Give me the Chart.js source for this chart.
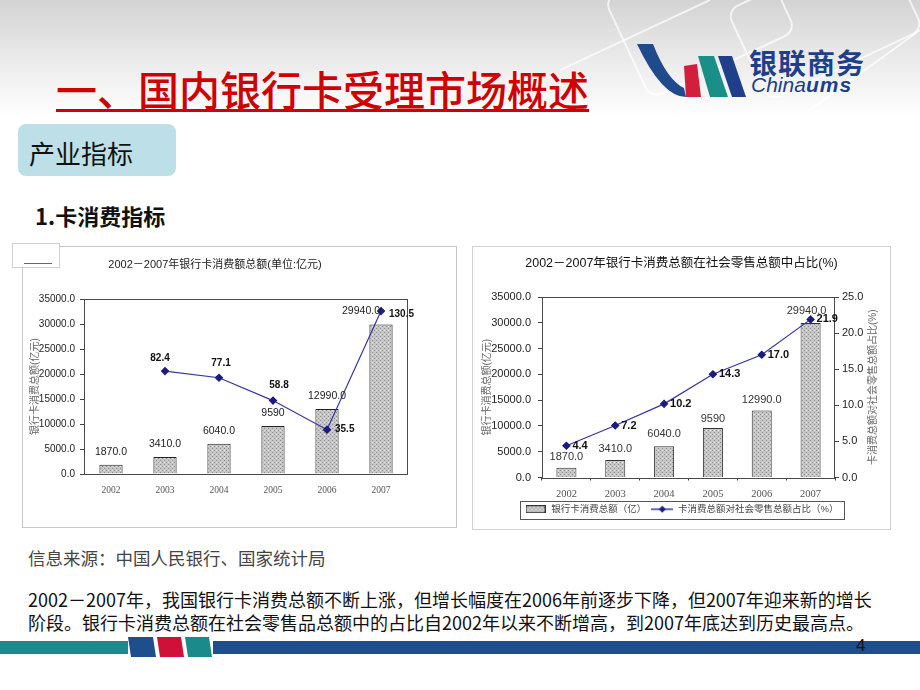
<!DOCTYPE html>
<html>
<head>
<meta charset="utf-8">
<script src="https://cdn.jsdelivr.net/npm/chart.js@4.4.0/dist/chart.umd.min.js"></script>
<style>
  html, body { margin: 0; padding: 0; }
  body {
    width: 920px; height: 690px; position: relative; overflow: hidden;
    background: linear-gradient(#d3d3d3 0px, #e9e9e9 55px, #ffffff 118px);
    font-family: 'Noto Sans CJK SC', sans-serif;
  }
  .abs { position: absolute; }
  #deco { left: 560px; top: 0; }
  #title {
    left: 56px; top: 68px; font-size: 41px; line-height: 41px; color: #d00000;
    border-bottom: 3px solid #d00000; white-space: nowrap; font-weight: 500;
  }
  #tag { left: 18px; top: 124px; width: 158px; height: 52px; background: #bde0e8; border-radius: 8px; }
  #tag span { position: absolute; left: 11px; top: 16px; font-size: 26px; line-height: 26px; color: #111; }
  #sub { left: 35px; top: 204px; font-size: 22px; line-height: 22px; font-weight: bold; color: #111; }
  .frame { box-sizing: border-box; border: 1px solid #c6c6c6; background: #fff; }
  #f1 { left: 22px; top: 246px; width: 435px; height: 282px; }
  #f2 { left: 472px; top: 246px; width: 419px; height: 284px; border-color: #d2d2d2; }
  #c1 { left: 22px; top: 246px; }
  #c2 { left: 472px; top: 246px; }
  #stub { left: 12px; top: 243px; width: 48px; height: 25px; box-sizing: border-box; border: 1px solid #cfcfcf; background: #fff; }
  #stub i { position: absolute; left: 11px; top: 19px; width: 28px; height: 1px; background: #666; }
  #src { left: 28px; top: 549px; font-size: 17.5px; line-height: 17.5px; color: #444; white-space: nowrap; }
  #para { left: 28px; top: 588px; font-size: 18px; line-height: 23px; color: #111; white-space: nowrap; }
  #page { left: 856px; top: 636px; font-family: 'Liberation Sans', sans-serif; font-size: 17px; color: #111; }
  #logoTxt { left: 749px; top: 48px; font-size: 28px; line-height: 28px; font-weight: bold; color: #1f3f8a; letter-spacing: 1px; }
  #logoEn { left: 751px; top: 74px; font-family: 'Liberation Sans', sans-serif; font-size: 21px; line-height: 21px; color: #1f3f8a; white-space: nowrap; }
  #logoEn i { font-style: italic; }
  #logoEn b { font-style: italic; letter-spacing: 1px; }
</style>
</head>
<body>
<svg id="deco" class="abs" width="360" height="120">
  <g fill="none" stroke="#ffffff" stroke-opacity="0.7" stroke-width="2">
    <rect x="60" y="-40" width="160" height="110" rx="12" transform="rotate(-25 140 15)"/>
    <rect x="180" y="-30" width="170" height="100" rx="12" transform="rotate(-25 265 20)"/>
    <path d="M0 70 L150 0"/>
    <path d="M250 110 L360 30"/>
  </g>
</svg>

<div id="title" class="abs">一、国内银行卡受理市场概述</div>

<svg class="abs" style="left:0;top:0" width="920" height="120">
  <path d="M637 44 L653 44 Q667 80 684 88 L686 97 Q662 97 637 44 Z" fill="#1f4a8c"/>
  <path d="M684 66 L697 64 L701 97 L686 97 Z" fill="#d21f3c"/>
  <path d="M698 56 L714 56 L728 97 L710 97 Z" fill="#1a8f87"/>
  <path d="M718 56 L732 56 L746 97 L732 97 Z" fill="#1f3f8a"/>
</svg>
<div id="logoTxt" class="abs">银联商务</div>
<div id="logoEn" class="abs"><i>China</i><b>ums</b></div>

<div id="tag" class="abs"><span>产业指标</span></div>
<div id="sub" class="abs">1.卡消费指标</div>

<div id="f1" class="abs frame"></div>
<div id="f2" class="abs frame"></div>
<canvas id="c1" class="abs" width="435" height="282"></canvas>
<canvas id="c2" class="abs" width="419" height="284"></canvas>
<div id="stub" class="abs"><i></i></div>

<div id="src" class="abs">信息来源：中国人民银行、国家统计局</div>
<div id="para" class="abs">2002－2007年，我国银行卡消费总额不断上涨，但增长幅度在2006年前逐步下降，但2007年迎来新的增长<br>阶段。银行卡消费总额在社会零售品总额中的占比自2002年以来不断增高，到2007年底达到历史最高点。</div>

<svg class="abs" style="left:0;top:632px" width="920" height="30">
  <rect x="0" y="9" width="128" height="13" fill="#1a8a8a"/>
  <path d="M128 5 L153 5 L156 25 L131 25 Z" fill="#1f4e8c"/>
  <path d="M157 5 L181 5 L184 25 L160 25 Z" fill="#cf1038"/>
  <path d="M185 5 L209 5 L212 25 L188 25 Z" fill="#1a8a8a"/>
  <rect x="213" y="9" width="707" height="13" fill="#1f4e8c"/>
</svg>
<div id="page" class="abs">4</div>

<script>
// --- data ---
const years = ['2002', '2003', '2004', '2005', '2006', '2007'];
const cardSpend = [1870, 3410, 6040, 9590, 12990, 29940];
const cardSpendText = ['1870.0', '3410.0', '6040.0', '9590', '12990.0', '29940.0'];
const growthRate = [null, 82.4, 77.1, 58.8, 35.5, 130.5];
const retailShare = [4.4, 7.2, 10.2, 14.3, 17.0, 21.9];

const title1 = '2002－2007年银行卡消费额总额(单位:亿元)';
const title2 = '2002－2007年银行卡消费总额在社会零售总额中占比(%)';
const spendAxisTitle = '银行卡消费总额(亿元)';
const shareAxisTitle = '卡消费总额对社会零售总额占比(%)';
const legendSpend = '银行卡消费总额（亿）';
const legendShare = '卡消费总额对社会零售总额占比（%）';

// --- styles ---
const NUM = "'Liberation Sans Narrow', 'Liberation Sans', 'Noto Sans CJK SC', sans-serif";
const SERIF = "'Liberation Serif', serif";
const lineColor = '#3434a6';
const markColor = '#1b1b80';

Chart.defaults.font.family = NUM;
Chart.defaults.color = '#222';

function barPattern() {
  const c = document.createElement('canvas');
  c.width = 4; c.height = 4;
  const x = c.getContext('2d');
  x.fillStyle = '#c6c6c6';
  x.fillRect(0, 0, 4, 4);
  x.fillStyle = '#8e8e8e';
  x.fillRect(0, 0, 1, 1);
  x.fillRect(2, 2, 1, 1);
  x.fillStyle = '#e2e2e2';
  x.fillRect(2, 0, 1, 1);
  return x.createPattern(c, 'repeat');
}

const fmt1 = v => Number(v).toFixed(1);

// labels next to points / bars
const valueLabels = {
  id: 'valueLabels',
  afterDatasetsDraw(chart) {
    const ctx = chart.ctx;
    chart.data.datasets.forEach((ds, i) => {
      if (!ds.labelText) return;
      const meta = chart.getDatasetMeta(i);
      ctx.save();
      ctx.font = ds.labelFont;
      ctx.fillStyle = ds.labelColor;
      ctx.textBaseline = 'middle';
      meta.data.forEach((el, j) => {
        const txt = ds.labelText[j];
        if (txt == null || ds.data[j] == null) return;
        const off = ds.labelOffset[j];
        ctx.textAlign = off[2];
        ctx.fillText(txt, el.x + off[0], el.y + off[1]);
      });
      ctx.restore();
    });
  }
};

const plotFrame = {
  id: 'plotFrame',
  afterDatasetsDraw(chart) {
    const a = chart.chartArea, ctx = chart.ctx;
    ctx.save();
    ctx.strokeStyle = '#4a4a4a';
    ctx.lineWidth = 1;
    ctx.strokeRect(Math.round(a.left) + 0.5, Math.round(a.top) + 0.5,
                   Math.round(a.right - a.left) - 1, Math.round(a.bottom - a.top));
    ctx.restore();
  }
};

// ---------- chart 1 ----------
new Chart(document.getElementById('c1'), {
  data: {
    labels: years,
    datasets: [
      {
        type: 'line', label: '增长率', data: growthRate, yAxisID: 'y1', order: 0,
        borderColor: lineColor, borderWidth: 1.2, pointStyle: 'rectRot', pointRadius: 3.5,
        pointBackgroundColor: markColor, pointBorderColor: markColor, spanGaps: false,
        labelText: growthRate.map(v => v == null ? null : fmt1(v)),
        labelOffset: [null, [-5, -13, 'center'], [2, -14, 'center'], [6, -15, 'center'], [8, 0, 'left'], [8, 3, 'left']],
        labelFont: 'bold 10px ' + NUM, labelColor: '#111'
      },
      {
        type: 'bar', label: legendSpend, data: cardSpend, yAxisID: 'y', order: 1,
        backgroundColor: barPattern(), borderColor: '#222', borderWidth: 1,
        barPercentage: 0.43, categoryPercentage: 1,
        labelText: cardSpendText,
        labelOffset: [[0, -13, 'center'], [0, -13, 'center'], [0, -13, 'center'], [0, -13, 'center'], [0, -13, 'center'], [-20, -13, 'center']],
        labelFont: '10.5px ' + NUM, labelColor: '#222'
      }
    ]
  },
  options: {
    responsive: false, animation: false,
    layout: { padding: { left: 0, right: 49, top: 0, bottom: 0 } },
    plugins: {
      legend: { display: false },
      tooltip: { enabled: false },
      title: {
        display: true, text: title1, color: '#222',
        font: { size: 11, weight: 'normal', family: NUM, lineHeight: 1.2 },
        padding: { top: 12, bottom: 28 }
      }
    },
    scales: {
      x: {
        grid: { display: false, drawTicks: false },
        border: { display: false },
        ticks: { font: { size: 9.5, family: SERIF }, color: '#555', padding: 11 },
        afterFit: s => { s.height = 54; }
      },
      y: {
        min: 0, max: 35000,
        ticks: { stepSize: 5000, callback: fmt1, font: { size: 10 }, color: '#222', padding: 5 },
        grid: { display: true, drawOnChartArea: false, drawTicks: true, tickLength: 4, color: '#444' },
        border: { display: false },
        title: { display: true, text: spendAxisTitle, color: '#666', font: { size: 10, family: NUM }, padding: { top: 7, bottom: 0 } },
        afterFit: s => { s.width = 62; }
      },
      y1: { display: false, min: 0, max: 140 }
    }
  },
  plugins: [plotFrame, valueLabels]
});

// ---------- chart 2 ----------
function swatchBar() {
  const c = document.createElement('canvas');
  c.width = 20; c.height = 8;
  const x = c.getContext('2d');
  x.fillStyle = barPattern();
  x.fillRect(0, 0, 20, 8);
  x.strokeStyle = '#333';
  x.strokeRect(0.5, 0.5, 19, 7);
  return c;
}
function swatchLine() {
  const c = document.createElement('canvas');
  c.width = 22; c.height = 8;
  const x = c.getContext('2d');
  x.strokeStyle = lineColor;
  x.lineWidth = 1.5;
  x.beginPath(); x.moveTo(0, 4); x.lineTo(22, 4); x.stroke();
  x.fillStyle = markColor;
  x.beginPath(); x.moveTo(11, 0.5); x.lineTo(14.5, 4); x.lineTo(11, 7.5); x.lineTo(7.5, 4); x.closePath(); x.fill();
  return c;
}

const rightTitle = {
  id: 'rightTitle',
  afterDraw(chart, args, opts) {
    const s = chart.scales.y1, a = chart.chartArea, ctx = chart.ctx;
    ctx.save();
    ctx.translate(s.right - opts.offset, (a.top + a.bottom) / 2);
    ctx.rotate(-Math.PI / 2);
    ctx.font = opts.font;
    ctx.fillStyle = opts.color;
    ctx.textAlign = 'center';
    ctx.textBaseline = 'middle';
    ctx.fillText(opts.text, 0, 0);
    ctx.restore();
  }
};

const legendBox = {
  id: 'legendBox',
  afterDraw(chart) {
    const boxes = chart.legend.legendHitBoxes;
    if (!boxes || !boxes.length) return;
    const minX = Math.min(...boxes.map(b => b.left));
    const maxX = Math.max(...boxes.map(b => b.left + b.width));
    const minY = Math.min(...boxes.map(b => b.top));
    const maxY = Math.max(...boxes.map(b => b.top + b.height));
    const ctx = chart.ctx;
    ctx.save();
    ctx.strokeStyle = '#555';
    ctx.lineWidth = 1;
    ctx.strokeRect(Math.round(minX - 5) + 0.5, Math.round(minY - 4) + 0.5, Math.round(maxX - minX + 10), Math.round(maxY - minY + 8));
    ctx.restore();
  }
};

new Chart(document.getElementById('c2'), {
  data: {
    labels: years,
    datasets: [
      {
        type: 'line', label: legendShare, data: retailShare, yAxisID: 'y1', order: 0,
        borderColor: lineColor, borderWidth: 1.2, pointStyle: 'rectRot', pointRadius: 3.5,
        pointBackgroundColor: markColor, pointBorderColor: markColor,
        labelText: retailShare.map(fmt1),
        labelOffset: retailShare.map(() => [6, 0, 'left']),
        labelFont: 'bold 11px ' + NUM, labelColor: '#111'
      },
      {
        type: 'bar', label: legendSpend, data: cardSpend, yAxisID: 'y', order: 1,
        backgroundColor: barPattern(), borderColor: '#333', borderWidth: 1,
        barPercentage: 0.41, categoryPercentage: 1,
        labelText: cardSpendText,
        labelOffset: [[0, -11, 'center'], [0, -11, 'center'], [0, -12, 'center'], [0, -9, 'center'], [0, -11, 'center'], [-4, -12, 'center']],
        labelFont: '11px ' + NUM, labelColor: '#333'
      }
    ]
  },
  options: {
    responsive: false, animation: false,
    layout: { padding: { left: 0, right: 0, top: 0, bottom: 6 } },
    plugins: {
      tooltip: { enabled: false },
      title: {
        display: true, text: title2, color: '#111',
        font: { size: 12.5, weight: 'normal', family: NUM, lineHeight: 1.2 },
        padding: { top: 10, bottom: 26 }
      },
      legend: {
        display: true, position: 'bottom',
        labels: {
          usePointStyle: true, pointStyleWidth: 22, boxHeight: 9, padding: 5,
          font: { size: 9.5, family: NUM }, color: '#444',
          generateLabels: () => [
            { text: legendSpend, pointStyle: swatchBar(), datasetIndex: 1, fontColor: '#444', hidden: false },
            { text: legendShare, pointStyle: swatchLine(), datasetIndex: 0, fontColor: '#444', hidden: false }
          ]
        }
      },
      rightTitle: { text: shareAxisTitle, offset: 18, font: '10px ' + NUM, color: '#666' }
    },
    scales: {
      x: {
        grid: { display: true, drawOnChartArea: false, drawTicks: true, tickLength: 3, color: '#444' },
        border: { display: false },
        ticks: { font: { size: 10.5, family: SERIF }, color: '#555', padding: 7 },
        afterFit: s => { s.height = 22; }
      },
      y: {
        position: 'left', min: 0, max: 35000,
        ticks: { stepSize: 5000, callback: fmt1, font: { size: 11 }, color: '#222', padding: 7 },
        grid: { display: true, drawOnChartArea: false, drawTicks: true, tickLength: 4, color: '#444' },
        border: { display: false },
        title: { display: true, text: spendAxisTitle, color: '#666', font: { size: 10, family: NUM }, padding: { top: 9, bottom: 0 } },
        afterFit: s => { s.width = 70; }
      },
      y1: {
        position: 'right', min: 0, max: 25,
        ticks: { stepSize: 5, callback: fmt1, font: { size: 11 }, color: '#222', padding: 3 },
        grid: { display: true, drawOnChartArea: false, drawTicks: true, tickLength: 4, color: '#444' },
        border: { display: false },
        afterFit: s => { s.width = 56; }
      }
    }
  },
  plugins: [plotFrame, valueLabels, rightTitle, legendBox]
});
</script>
</body>
</html>
